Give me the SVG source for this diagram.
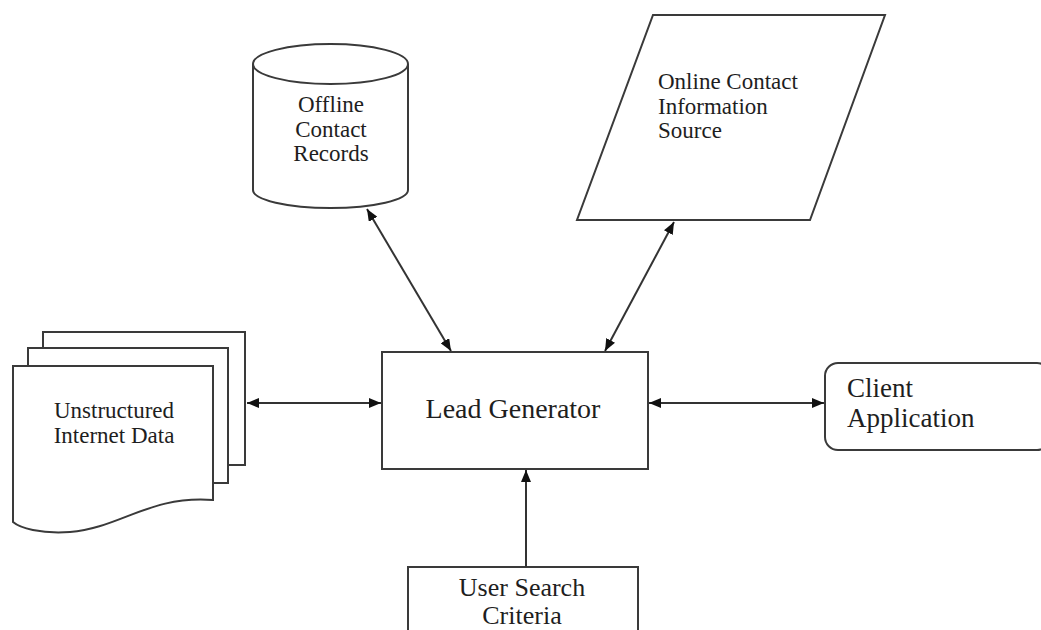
<svg xmlns="http://www.w3.org/2000/svg" width="1041" height="630" viewBox="0 0 1041 630">
<style>
.s{fill:#fff;stroke:#3a3a3a;stroke-width:2;}
.t{font-family:"Liberation Serif","Times New Roman",serif;fill:#1e1e1e;}
.c{stroke:#333;stroke-width:2;fill:none;}
</style>
<defs>
<marker id="ah" viewBox="0 0 12 10" refX="12" refY="5" markerWidth="12" markerHeight="10" markerUnits="userSpaceOnUse" orient="auto-start-reverse">
<path d="M0,0 L12,5 L0,10 Z" fill="#111"/>
</marker>
</defs>
<rect width="1041" height="630" fill="#fff"/>
<g id="offline">
<path class="s" d="M253,64 L253,190 A77.5,18 0 0 0 408,190 L408,64"/>
<ellipse class="s" cx="330.5" cy="64" rx="77.5" ry="20"/>
<text class="t" font-size="23" text-anchor="middle"><tspan x="331" y="112">Offline</tspan><tspan x="331" y="137">Contact</tspan><tspan x="331" y="161">Records</tspan></text>
</g>
<g id="online">
<polygon class="s" points="653,15 885,15 810,220 577,220"/>
<text class="t" font-size="23"><tspan x="658" y="89">Online Contact</tspan><tspan x="658" y="114">Information</tspan><tspan x="658" y="138">Source</tspan></text>
</g>
<g id="docs">
<rect class="s" x="43" y="332" width="202" height="133"/>
<rect class="s" x="28" y="348" width="200" height="135"/>
<path class="s" d="M13,366 L213,366 L213,500 C150,495 120,528 70,532 C40,534 20,528 13,522 Z"/>
<text class="t" font-size="23" text-anchor="middle"><tspan x="114" y="418">Unstructured</tspan><tspan x="114" y="443">Internet Data</tspan></text>
</g>
<g id="lead">
<rect class="s" x="382" y="352" width="266" height="117"/>
<text class="t" font-size="28" text-anchor="middle" x="513" y="418">Lead Generator</text>
</g>
<g id="client">
<rect class="s" x="825" y="363" width="225" height="87" rx="13"/>
<text class="t" font-size="27"><tspan x="847" y="397">Client</tspan><tspan x="847" y="427">Application</tspan></text>
</g>
<g id="user">
<rect class="s" x="408" y="567" width="230" height="80"/>
<text class="t" font-size="26" text-anchor="middle"><tspan x="522" y="596">User Search</tspan><tspan x="522" y="624">Criteria</tspan></text>
</g>
<g id="connectors">
<line class="c" x1="247" y1="403" x2="381" y2="403" marker-start="url(#ah)" marker-end="url(#ah)"/>
<line class="c" x1="649" y1="403" x2="824" y2="403" marker-start="url(#ah)" marker-end="url(#ah)"/>
<line class="c" x1="367" y1="209" x2="451" y2="351" marker-start="url(#ah)" marker-end="url(#ah)"/>
<line class="c" x1="674" y1="222" x2="605" y2="351" marker-start="url(#ah)" marker-end="url(#ah)"/>
<line class="c" x1="526" y1="567" x2="526" y2="470" marker-end="url(#ah)"/>
</g>
</svg>
